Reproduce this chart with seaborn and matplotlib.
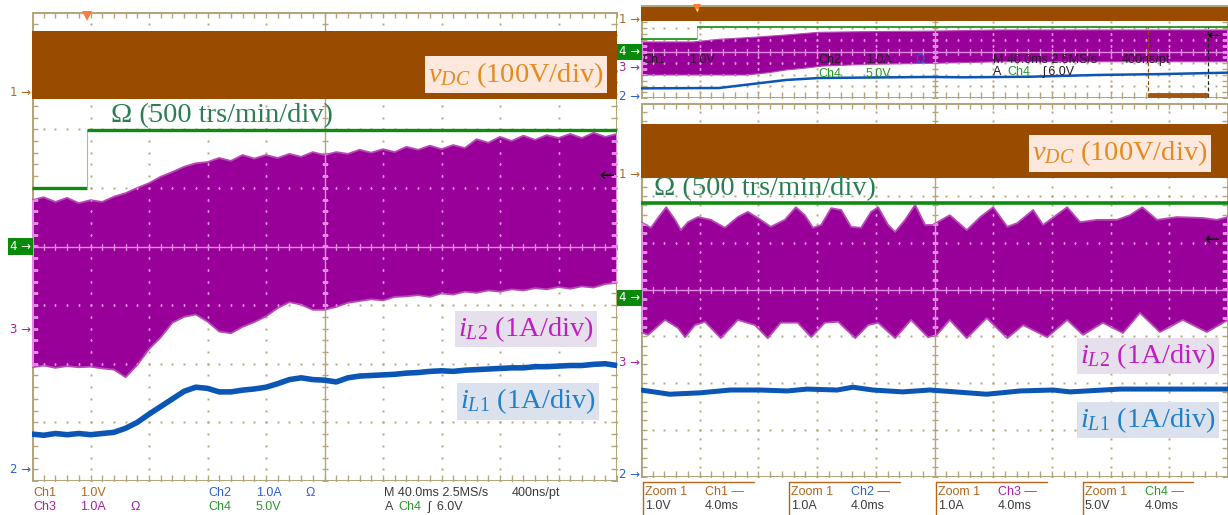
import numpy as np
import matplotlib
matplotlib.use("Agg")
import matplotlib.pyplot as plt
import matplotlib.transforms as mtransforms
from matplotlib.lines import Line2D
import seaborn as sns

sns.set_theme(style="white")
plt.rcParams['font.family'] = ['DejaVu Sans']
plt.rcParams['mathtext.fontset'] = 'custom'
plt.rcParams['mathtext.rm'] = 'Liberation Serif'
plt.rcParams['mathtext.it'] = 'Liberation Serif:italic'

# ------------------------------------------------------------------ data (screen divisions)
# ---- left capture: 40 ms/div ----
LEFT_T = [0.0, 0.2, 0.4, 0.6, 0.8, 1.0, 1.2, 1.4, 1.6, 1.8,
          2.0, 2.2, 2.4, 2.6, 2.8, 3.0, 3.2, 3.4, 3.6, 3.8,
          4.0, 4.2, 4.4, 4.6, 4.8, 5.0, 5.2, 5.4, 5.6, 5.8,
          6.0, 6.2, 6.4, 6.6, 6.8, 7.0, 7.2, 7.4, 7.6, 7.8,
          8.0, 8.2, 8.4, 8.6, 8.8, 9.0, 9.2, 9.4, 9.6, 9.8, 10.0]
LEFT_IL2_HI = [0.79, 0.84, 0.76, 0.83, 0.74, 0.79, 0.76, 0.85, 0.91, 1.00,
               1.08, 1.19, 1.27, 1.36, 1.42, 1.44, 1.51, 1.46, 1.56, 1.50,
               1.56, 1.51, 1.58, 1.53, 1.61, 1.56, 1.61, 1.58, 1.65, 1.60,
               1.66, 1.61, 1.70, 1.65, 1.72, 1.66, 1.73, 1.68, 1.83, 1.77,
               1.87, 1.80, 1.89, 1.82, 1.90, 1.85, 1.92, 1.85, 1.94, 1.87, 1.92]
LEFT_IL2_LO = [-2.06, -2.03, -2.07, -2.04, -2.06, -2.05, -2.08, -2.10, -2.23, -2.02,
               -1.75, -1.55, -1.30, -1.20, -1.16, -1.28, -1.45, -1.48, -1.37, -1.29,
               -1.19, -1.05, -0.95, -0.99, -1.08, -1.08, -1.03, -0.96, -0.93, -0.90,
               -0.92, -0.86, -0.85, -0.83, -0.86, -0.80, -0.82, -0.77, -0.79, -0.75,
               -0.77, -0.73, -0.75, -0.71, -0.73, -0.69, -0.72, -0.68, -0.70, -0.64, -0.62]
LEFT_IL1 = [-3.20, -3.22, -3.19, -3.21, -3.19, -3.21, -3.19, -3.17, -3.10, -3.00,
            -2.86, -2.73, -2.60, -2.47, -2.40, -2.42, -2.48, -2.48, -2.45, -2.43,
            -2.40, -2.34, -2.27, -2.24, -2.27, -2.28, -2.31, -2.24, -2.21, -2.20,
            -2.19, -2.18, -2.16, -2.15, -2.13, -2.12, -2.13, -2.11, -2.10, -2.09,
            -2.08, -2.07, -2.07, -2.05, -2.05, -2.04, -2.03, -2.03, -2.01, -2.00, -2.03]
LEFT_VDC = (2.52, 3.68)                 # band bottom / top
LEFT_OMEGA_T = [0.0, 0.94, 10.0]
LEFT_OMEGA_Y = [1.00, 1.99, 1.99]

# ---- overview strip (top right) ----
STRIP_VDC = (2.65, 3.80)
STRIP_OMEGA_T = [0.0, 0.95, 10.0]
STRIP_OMEGA_Y = [1.08, 2.11, 2.11]
STRIP_IL2_HI_T = [0.0, 0.89, 1.33, 1.91, 2.47, 3.03, 3.88, 4.91, 6.12, 7.82, 10.0]
STRIP_IL2_HI = [0.82, 0.82, 1.05, 1.22, 1.42, 1.65, 1.71, 1.75, 1.85, 1.85, 1.85]
STRIP_IL2_LO_T = [0.0, 1.79, 2.18, 2.47, 2.76, 3.10, 3.88, 4.91, 6.12, 10.0]
STRIP_IL2_LO = [-2.02, -2.02, -1.82, -1.59, -1.45, -1.25, -1.10, -1.02, -0.88, -0.88]
STRIP_IL1_T = [0.0, 1.33, 2.47, 3.03, 3.88, 4.91, 5.49, 6.63, 7.77, 8.89, 10.0]
STRIP_IL1 = [-3.17, -3.14, -2.45, -2.28, -2.24, -2.19, -2.22, -2.17, -2.02, -1.94, -1.82]
ZOOM_WINDOW = (8.64, 9.66)

# ---- zoomed capture: 4 ms/div ----
ZOOM_VDC = (2.39, 3.54)
ZOOM_OMEGA = 1.85
ZOOM_IL2_HI_T = [0.0, 0.17, 0.29, 0.43, 0.58, 0.68, 0.80, 0.97, 1.19, 1.43,
                 1.65, 1.82, 1.99, 2.21, 2.45, 2.64, 2.79, 2.93, 3.07, 3.24,
                 3.41, 3.58, 3.75, 3.92, 4.04, 4.21, 4.33, 4.50, 4.67, 4.84,
                 4.97, 5.26, 5.55, 5.78, 6.00, 6.24, 6.41, 6.68, 6.85, 7.26,
                 7.48, 7.77, 8.11, 8.33, 8.54, 8.79, 9.13, 9.57, 9.81, 10.0]
ZOOM_IL2_HI = [1.44, 1.32, 1.53, 1.76, 1.49, 1.27, 1.44, 1.55, 1.49, 1.32,
               1.55, 1.66, 1.53, 1.34, 1.49, 1.76, 1.59, 1.32, 1.38, 1.74,
               1.70, 1.34, 1.32, 1.66, 1.76, 1.38, 1.23, 1.49, 1.81, 1.38,
               1.38, 1.59, 1.27, 1.55, 1.76, 1.34, 1.42, 1.70, 1.38, 1.76,
               1.44, 1.49, 1.49, 1.59, 1.76, 1.49, 1.55, 1.53, 1.49, 1.55]
ZOOM_IL2_LO_T = [0.0, 0.12, 0.41, 0.63, 0.75, 0.92, 1.09, 1.36, 1.65, 1.94,
                 2.16, 2.38, 2.67, 2.90, 3.13, 3.36, 3.65, 3.87, 4.04, 4.33,
                 4.60, 4.89, 5.04, 5.26, 5.55, 5.89, 6.24, 6.51, 6.92, 7.26,
                 7.53, 7.87, 8.21, 8.50, 8.84, 9.23, 9.64, 10.0]
ZOOM_IL2_LO = [-0.91, -0.97, -0.65, -0.82, -1.02, -0.76, -0.69, -1.04, -0.65, -0.76,
               -1.04, -0.71, -0.71, -1.02, -0.71, -0.69, -1.04, -0.76, -0.71, -1.04,
               -0.65, -1.02, -0.97, -0.65, -1.04, -0.61, -1.04, -0.76, -1.02, -0.65,
               -0.97, -0.71, -0.93, -0.50, -0.91, -0.65, -0.91, -0.65]
ZOOM_IL1_T = [0.0, 0.49, 1.01, 1.52, 2.03, 2.49, 2.83, 3.34, 3.61, 3.95,
              4.46, 4.92, 5.89, 6.46, 7.02, 7.31, 8.16, 9.01, 10.0]
ZOOM_IL1 = [-2.15, -2.24, -2.21, -2.15, -2.15, -2.17, -2.13, -2.15, -2.09, -2.15,
            -2.19, -2.15, -2.24, -2.17, -2.15, -2.19, -2.13, -2.13, -2.13]

# ------------------------------------------------------------------ styles
BROWN = '#994c00'
PURPLE = '#990099'
PINK = '#e28ae2'
GREEN = '#108a10'
GREEN_LIGHT = '#7ed67e'
BLUE = '#0b55b4'
TAN = '#b3a57c'
C_CH1 = '#b3651e'
C_CH2 = '#2a62c8'
C_CH3 = '#a523a5'
C_CH4 = '#2a9a2a'
C_TXT = '#3a3a3a'
SERIF = 'Liberation Serif'
SANS = 'Liberation Sans'

W, H = 1228, 515
fig = plt.figure(figsize=(W / 100, H / 100), dpi=100)
fig.patch.set_facecolor('white')


def px_axes(x0, y0, x1, y1):
    ax = fig.add_axes([x0 / W, 1 - y1 / H, (x1 - x0) / W, (y1 - y0) / H])
    ax.set_xlim(0, 10)
    ax.set_ylim(-4, 4)
    ax.set_axis_off()
    return ax


axL = px_axes(32, 12, 617, 481)
axS = px_axes(641, 5, 1228, 98)
axR = px_axes(641, 102.5, 1228, 476.5)


def scope_grid(ax, color, ystep, z, clip=None):
    arts = []
    xs = np.arange(0, 10.001, 0.2)
    ys = np.arange(-4, 4.001, ystep)
    arts += ax.plot([0, 10, 10, 0, 0], [-4, -4, 4, 4, -4], color=color, lw=2.2, zorder=z)
    for xb in (0, 10):
        arts += ax.plot(np.full_like(ys, xb), ys, ls='none', marker='_', ms=8, mew=1.0,
                        color=color, zorder=z)
    for yb in (-4, 4):
        arts += ax.plot(xs, np.full_like(xs, yb), ls='none', marker='|', ms=8, mew=1.0,
                        color=color, zorder=z)
    arts += ax.plot([5, 5], [-4, 4], color=color, lw=1.0, zorder=z)
    arts += ax.plot([0, 10], [0, 0], color=color, lw=1.0, zorder=z)
    arts += ax.plot(np.full_like(ys, 5), ys, ls='none', marker='_', ms=5, mew=1.0,
                    color=color, zorder=z)
    arts += ax.plot(xs, np.zeros_like(xs), ls='none', marker='|', ms=5, mew=1.0,
                    color=color, zorder=z)
    for gx in (1, 2, 3, 4, 6, 7, 8, 9):
        arts += ax.plot(np.full_like(ys, gx), ys, ls='none', marker='s', ms=1.4, mew=0,
                        color=color, zorder=z)
    for gy in (-3, -2, -1, 1, 2, 3):
        arts += ax.plot(xs, np.full_like(xs, gy), ls='none', marker='s', ms=1.4, mew=0,
                        color=color, zorder=z)
    if clip is not None:
        for a in arts:
            a.set_clip_path(clip)
    return arts


def draw_traces(ax, ystep, vdc, om_t, om_y, hi_t, hi, lo_t, lo, i1_t, i1,
                lw_blue, lw_green, edge_lw):
    scope_grid(ax, TAN, ystep, 1)
    ax.fill_between([0, 10], [vdc[0], vdc[0]], [vdc[1], vdc[1]], color=BROWN, lw=0, zorder=2)
    for i in range(len(om_t) - 1):
        ax.plot([om_t[i], om_t[i + 1]], [om_y[i], om_y[i]], color=GREEN, lw=lw_green,
                solid_capstyle='butt', zorder=2.2)
        if om_y[i + 1] != om_y[i]:
            ax.plot([om_t[i + 1], om_t[i + 1]], [om_y[i], om_y[i + 1]], color=GREEN_LIGHT,
                    lw=0.8, zorder=2.2)
    poly = ax.fill(np.r_[hi_t, lo_t[::-1]], np.r_[hi, lo[::-1]], color=PURPLE, lw=0,
                   zorder=2.5)[0]
    ax.plot(hi_t, hi, color='#b64ab6', lw=edge_lw, zorder=2.5)
    ax.plot(lo_t, lo, color='#b64ab6', lw=edge_lw, zorder=2.5)
    scope_grid(ax, PINK, ystep, 2.7, clip=poly)
    sns.lineplot(x=i1_t, y=i1, ax=ax, color=BLUE, linewidth=lw_blue, sort=False,
                 estimator=None, zorder=5, legend=False)
    ax.set_xlim(0, 10)
    ax.set_ylim(-4, 4)
    ax.set_axis_off()


draw_traces(axL, 0.2, LEFT_VDC, LEFT_OMEGA_T, LEFT_OMEGA_Y,
            np.array(LEFT_T), np.array(LEFT_IL2_HI), np.array(LEFT_T), np.array(LEFT_IL2_LO),
            LEFT_T, LEFT_IL1, 4.0, 2.4, 1.3)
draw_traces(axS, 0.5, STRIP_VDC, STRIP_OMEGA_T, STRIP_OMEGA_Y,
            np.array(STRIP_IL2_HI_T), np.array(STRIP_IL2_HI),
            np.array(STRIP_IL2_LO_T), np.array(STRIP_IL2_LO),
            STRIP_IL1_T, STRIP_IL1, 1.8, 1.2, 0.8)
draw_traces(axR, 0.2, ZOOM_VDC, [0.0, 10.0], [ZOOM_OMEGA, ZOOM_OMEGA],
            np.array(ZOOM_IL2_HI_T), np.array(ZOOM_IL2_HI),
            np.array(ZOOM_IL2_LO_T), np.array(ZOOM_IL2_LO),
            ZOOM_IL1_T, ZOOM_IL1, 3.6, 2.6, 1.3)

# zoom window markers in the overview strip
for xw, col in zip(ZOOM_WINDOW, ('#8a4a10', '#222222')):
    axS.plot([xw, xw], [-3.9, 2.1], color=col, lw=0.9, ls=(0, (3, 2)), zorder=6)
axS.plot(list(ZOOM_WINDOW), [-3.75, -3.75], color='#a3560f', lw=3.5,
         solid_capstyle='butt', zorder=6)

# trigger markers
axL.plot([LEFT_OMEGA_T[1]], [3.93], marker='v', ms=7, color='#ff7a3c', mew=0,
         clip_on=False, zorder=8)
axS.plot([STRIP_OMEGA_T[1]], [3.75], marker='v', ms=6, color='#ff7a3c', mew=0,
         clip_on=False, zorder=8)
axS.plot([STRIP_OMEGA_T[1]], [3.6], marker='v', ms=2.5, color='#ffe040', mew=0,
         clip_on=False, zorder=9)

# black reference arrows
axL.text(9.82, 1.20, '←', fontsize=13, color='black', ha='center', va='center', zorder=8)
axR.text(9.72, 1.06, '←', fontsize=13, color='black', ha='center', va='center', zorder=8)
axS.text(9.76, 1.33, '←', fontsize=11, color='black', ha='center', va='center', zorder=8)

# ------------------------------------------------------------------ channel markers
def channel_marks(ax, x_right_px, marks):
    tr = mtransforms.blended_transform_factory(fig.transFigure, ax.transData)
    for label, y, col in marks:
        if label == '4':
            ax.text(x_right_px / W, y, '4 →', transform=tr, fontsize=8.5, color='white',
                    ha='right', va='center', clip_on=False, zorder=9,
                    bbox=dict(boxstyle='square,pad=0.15', fc='#0a8a0a', ec='none'))
        else:
            ax.text(x_right_px / W, y, label + ' →', transform=tr, fontsize=8.5, color=col,
                    ha='right', va='center', clip_on=False, zorder=9)


channel_marks(axL, 31, [('1', 2.62, C_CH1), ('4', 0.0, None), ('3', -1.41, C_CH3),
                        ('2', -3.80, C_CH2)])
channel_marks(axS, 640, [('1', 2.72, C_CH1), ('4', -0.04, None), ('3', -1.34, C_CH3),
                         ('2', -3.84, C_CH2)])
channel_marks(axR, 640, [('1', 2.45, C_CH1), ('4', -0.18, None), ('3', -1.57, C_CH3),
                         ('2', -3.96, C_CH2)])

# ------------------------------------------------------------------ signal labels
LBL = dict(fontsize=20.5, family=SERIF, ha='center', va='center', zorder=10)
VDC_TXT = r'$v_{DC}$ (100V/div)'
OMEGA_TXT = 'Ω (500 trs/min/div)'
IL2_TXT = r'$i_{L2}$ (1A/div)'
IL1_TXT = r'$i_{L1}$ (1A/div)'
BOX_VDC = dict(boxstyle='square,pad=0.12', fc='#fce8dc', ec='none')
BOX_IL2 = dict(boxstyle='square,pad=0.12', fc='#e5e0ec', ec='none')
BOX_IL1 = dict(boxstyle='square,pad=0.12', fc='#dbe2ee', ec='none')

axL.text(8.27, 2.93, VDC_TXT, color='#e58a1f', bbox=BOX_VDC, **LBL)
axL.text(3.25, 2.23, OMEGA_TXT, color='#2c7d53', **LBL)
axL.text(8.44, -1.41, IL2_TXT, color='#c41cc4', bbox=BOX_IL2, **LBL)
axL.text(8.48, -2.64, IL1_TXT, color='#1f80c8', bbox=BOX_IL1, **LBL)

axR.text(8.16, 2.91, VDC_TXT, color='#e58a1f', bbox=BOX_VDC, **LBL)
axR.text(2.11, 2.15, OMEGA_TXT, color='#2c7d53', **LBL)
axR.text(8.64, -1.42, IL2_TXT, color='#c41cc4', bbox=BOX_IL2, **LBL)
axR.text(8.64, -2.79, IL1_TXT, color='#1f80c8', bbox=BOX_IL1, **LBL)

# ------------------------------------------------------------------ status readouts
ST = dict(fontsize=9, family=SANS, va='center', ha='left', zorder=10)
strip_txt = [('Ch1', 0.03, -0.73, '#2a1a2a'), ('1.0V', 0.82, -0.73, '#2a1a2a'),
             ('Ch2', 3.02, -0.73, '#2a1a2a'), ('1.0A', 3.83, -0.73, '#2a1a2a'),
             ('Ω', 4.68, -0.73, C_CH2), ('Ch4', 3.02, -1.94, C_CH4), ('5.0V', 3.83, -1.94, C_CH4),
             ('M 40.0ms 2.5MS/s', 6.00, -0.73, '#2a1a2a'), ('400ns/pt', 8.19, -0.73, '#2a1a2a'),
             ('A', 6.00, -1.76, '#2a1a2a'), ('Ch4', 6.24, -1.76, C_CH4),
             ('ʃ 6.0V', 6.85, -1.76, '#2a1a2a')]
for s, x, y, c in strip_txt:
    axS.text(x, y, s, color=c, **ST)


def ftext(xp, yp, s, c):
    fig.text(xp / W, 1 - yp / H, s, color=c, **ST)


left_status = [(33, 493, 'Ch1', C_CH1), (80, 493, '1.0V', C_CH1), (208, 493, 'Ch2', C_CH2),
               (256, 493, '1.0A', C_CH2), (305, 493, 'Ω', C_CH2),
               (384, 493, 'M 40.0ms 2.5MS/s', C_TXT), (512, 493, '400ns/pt', C_TXT),
               (33, 507, 'Ch3', C_CH3), (80, 507, '1.0A', C_CH3), (130, 507, 'Ω', C_CH3),
               (208, 507, 'Ch4', C_CH4), (256, 507, '5.0V', C_CH4),
               (385, 507, 'A', C_TXT), (398, 507, 'Ch4', C_CH4), (428, 507, 'ʃ  6.0V', C_TXT)]
for xp, yp, s, c in left_status:
    ftext(xp, yp, s, c)

zoom_groups = [(643, 754, 'Ch1 —', C_CH1, '1.0V'), (789, 900, 'Ch2 —', C_CH2, '1.0A'),
               (936, 1047, 'Ch3 —', C_CH3, '1.0A'), (1083, 1193, 'Ch4 —', C_CH4, '5.0V')]
for x0, x1, ch, col, scale in zoom_groups:
    fig.add_artist(Line2D([x0 / W, x1 / W], [1 - 482 / H, 1 - 482 / H], color='#b3651e', lw=1.0))
    fig.add_artist(Line2D([x0 / W, x0 / W], [1 - 482 / H, 0], color='#b3651e', lw=1.0))
    ftext(x0 + 2, 492, 'Zoom 1', '#b3651e')
    ftext(x0 + 62, 492, ch, col)
    ftext(x0 + 2, 506, scale, C_TXT)
    ftext(x0 + 62, 506, '4.0ms', C_TXT)

fig.savefig('out.png', dpi=100, facecolor='white')
